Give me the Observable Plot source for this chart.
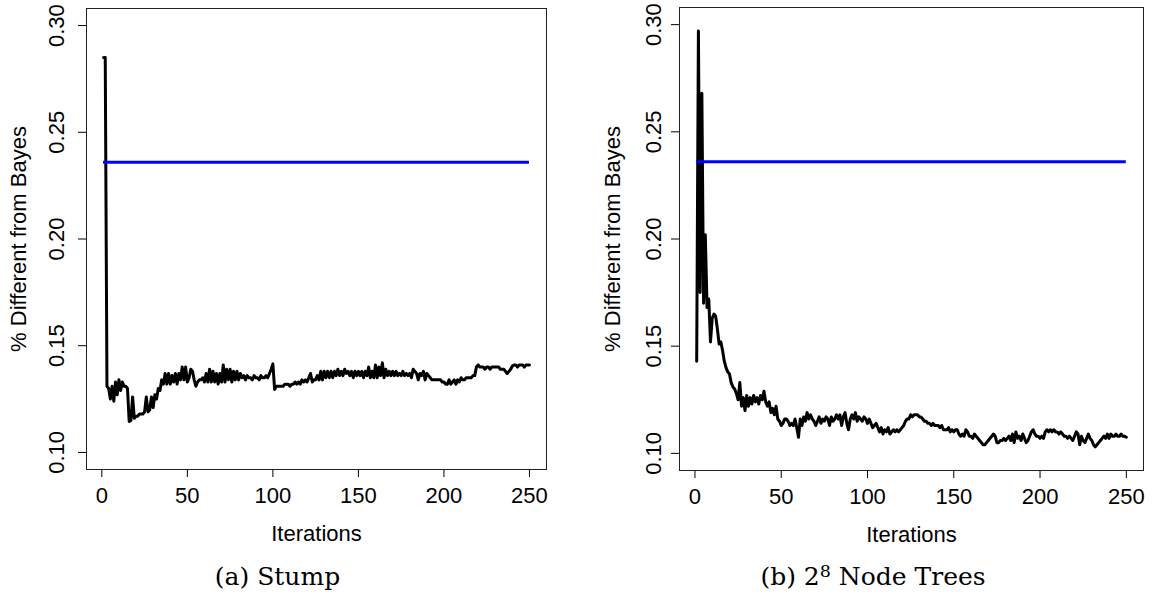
<!DOCTYPE html>
<html><head><meta charset="utf-8">
<script src="https://cdn.jsdelivr.net/npm/d3@7"></script>
<script src="https://cdn.jsdelivr.net/npm/@observablehq/plot@0.6"></script>
<style>
body{margin:0;background:#fff;}
#wrap{position:relative;width:1153px;height:596px;overflow:hidden;background:#fff;}
.panel{position:absolute;top:0;}
.cap{position:absolute;top:564px;font-family:"DejaVu Serif","Liberation Serif",serif;font-size:25px;line-height:1;text-align:center;white-space:nowrap;color:#000;}
.cap sup{font-size:0.7em;vertical-align:0;position:relative;top:-0.45em;}
</style></head>
<body><div id="wrap"></div>
<script>
const iterations = d3.range(1, 251);
const stumpError = [
0.285,0.285,0.131,0.130,0.125,0.131,0.124,0.133,0.127,0.134,
0.129,0.133,0.131,0.131,0.130,0.1145,0.115,0.126,0.116,0.117,
0.117,0.118,0.118,0.118,0.119,0.126,0.119,0.120,0.126,0.121,
0.127,0.125,0.130,0.129,0.134,0.132,0.137,0.132,0.137,0.132,
0.136,0.133,0.137,0.132,0.137,0.134,0.140,0.134,0.140,0.133,
0.135,0.139,0.138,0.134,0.131,0.133,0.134,0.134,0.135,0.133,
0.137,0.133,0.139,0.133,0.138,0.133,0.137,0.132,0.137,0.133,
0.141,0.133,0.139,0.134,0.139,0.133,0.138,0.134,0.138,0.134,
0.137,0.135,0.136,0.134,0.136,0.135,0.135,0.134,0.136,0.135,
0.135,0.134,0.136,0.135,0.135,0.136,0.135,0.137,0.139,0.1415,
0.1295,0.131,0.131,0.131,0.131,0.131,0.132,0.132,0.132,0.131,
0.132,0.132,0.133,0.132,0.133,0.132,0.134,0.133,0.134,0.133,
0.135,0.137,0.133,0.134,0.134,0.136,0.134,0.138,0.134,0.138,
0.135,0.138,0.135,0.138,0.135,0.138,0.136,0.139,0.136,0.138,
0.136,0.139,0.137,0.138,0.136,0.138,0.135,0.138,0.136,0.138,
0.136,0.138,0.135,0.138,0.136,0.140,0.135,0.138,0.135,0.141,
0.135,0.140,0.136,0.142,0.135,0.139,0.136,0.138,0.136,0.138,
0.136,0.138,0.136,0.137,0.136,0.138,0.136,0.137,0.136,0.137,
0.135,0.139,0.138,0.137,0.134,0.137,0.136,0.138,0.134,0.137,
0.136,0.135,0.134,0.134,0.134,0.134,0.134,0.134,0.133,0.133,
0.132,0.132,0.134,0.132,0.133,0.134,0.132,0.134,0.133,0.135,
0.134,0.134,0.135,0.135,0.135,0.135,0.136,0.136,0.140,0.141,
0.140,0.140,0.140,0.139,0.140,0.140,0.139,0.140,0.140,0.140,
0.140,0.140,0.139,0.139,0.139,0.138,0.137,0.138,0.139,0.1405,
0.141,0.141,0.140,0.141,0.141,0.141,0.140,0.141,0.141,0.141
];
const nodeTreeError = [
0.143,0.297,0.175,0.268,0.170,0.202,0.168,0.172,0.152,0.163,
0.165,0.164,0.158,0.151,0.152,0.148,0.143,0.140,0.138,0.137,
0.133,0.131,0.130,0.128,0.125,0.133,0.122,0.126,0.120,0.127,
0.122,0.126,0.123,0.127,0.124,0.126,0.123,0.127,0.125,0.129,
0.124,0.122,0.124,0.119,0.121,0.118,0.122,0.116,0.115,0.113,
0.114,0.116,0.116,0.115,0.113,0.114,0.113,0.116,0.112,0.1075,
0.116,0.113,0.117,0.115,0.119,0.116,0.118,0.116,0.115,0.113,
0.115,0.117,0.114,0.116,0.115,0.117,0.116,0.113,0.117,0.115,
0.116,0.118,0.116,0.118,0.113,0.117,0.119,0.114,0.111,0.116,
0.118,0.116,0.119,0.115,0.117,0.116,0.115,0.117,0.116,0.114,
0.116,0.114,0.112,0.113,0.114,0.112,0.110,0.112,0.109,0.111,
0.110,0.112,0.109,0.110,0.111,0.110,0.111,0.110,0.111,0.112,
0.113,0.115,0.116,0.116,0.118,0.117,0.118,0.118,0.118,0.117,
0.117,0.116,0.115,0.115,0.114,0.114,0.113,0.114,0.113,0.113,
0.113,0.112,0.113,0.111,0.111,0.111,0.112,0.110,0.111,0.110,
0.111,0.111,0.109,0.108,0.109,0.108,0.111,0.110,0.108,0.108,
0.107,0.109,0.108,0.107,0.106,0.105,0.104,0.104,0.105,0.106,
0.107,0.108,0.109,0.108,0.105,0.105,0.106,0.106,0.107,0.106,
0.107,0.108,0.106,0.109,0.105,0.110,0.107,0.108,0.106,0.109,
0.107,0.105,0.106,0.108,0.110,0.111,0.109,0.108,0.108,0.107,
0.108,0.107,0.110,0.111,0.110,0.111,0.110,0.111,0.110,0.110,
0.109,0.110,0.109,0.108,0.108,0.107,0.108,0.107,0.106,0.108,
0.110,0.109,0.104,0.108,0.106,0.105,0.107,0.109,0.107,0.106,
0.104,0.103,0.104,0.105,0.106,0.107,0.108,0.107,0.109,0.107,
0.109,0.108,0.108,0.109,0.108,0.108,0.109,0.108,0.108,0.1075
];
const bayesError = 0.236;
const xTicks = [0, 50, 100, 150, 200, 250];
const yTicks = [0.10, 0.15, 0.20, 0.25, 0.30];
const yLabel = "% Different from Bayes";
const xLabel = "Iterations";
const captions = ["(a) Stump", "(b) 2<sup>8</sup> Node Trees"];

const FONT = "'Liberation Sans', Arial, Helvetica, sans-serif";

function panel(values, o) {
  const data = iterations.map((it, i) => ({iter: it, err: values[i]}));
  const first = iterations[0], last = iterations[iterations.length - 1];
  return Plot.plot({
    width: o.width, height: 550,
    marginLeft: o.ml, marginRight: o.mr, marginTop: o.mt, marginBottom: 550 - o.bottom,
    x: {domain: [-8.96, 259.96]},
    y: {domain: [0.092, 0.308]},
    style: {fontFamily: FONT, fontSize: "22px", background: "white", color: "black"},
    marks: [
      Plot.axisX({ticks: xTicks, tickSize: 8, tickPadding: 10, fontSize: 22,
        label: xLabel, labelAnchor: "center", labelOffset: 71, labelArrow: "none"}),
      Plot.axisY({ticks: yTicks, tickFormat: d3.format(".2f"), tickSize: 8, tickRotate: -90,
        tickPadding: o.yPad, fontSize: 22,
        label: yLabel, labelAnchor: "center", labelOffset: o.yLabOff, labelArrow: "none"}),
      Plot.line(data, {x: "iter", y: "err", stroke: "black", strokeWidth: 3,
        strokeLinejoin: "round", strokeLinecap: "round"}),
      Plot.ruleY([bayesError], {x1: first, x2: last, stroke: "#0000ff", strokeWidth: 3}),
      Plot.frame({stroke: "#222", strokeWidth: 1})
    ]
  });
}

const wrap = document.getElementById("wrap");
const left = panel(stumpError, {width: 576, ml: 86, mr: 30, mt: 8, bottom: 469, yPad: 15, yLabOff: 76});
left.classList.add("panel"); left.style.left = "0px";
const right = panel(nodeTreeError, {width: 577, ml: 103, mr: 10, mt: 7, bottom: 470, yPad: 11, yLabOff: 75});
right.classList.add("panel"); right.style.left = "576px";
wrap.appendChild(left); wrap.appendChild(right);

const capPos = [[0, 555], [593, 560]];
captions.forEach((c, i) => {
  const d = document.createElement("div");
  d.className = "cap";
  d.style.left = capPos[i][0] + "px";
  d.style.width = capPos[i][1] + "px";
  d.innerHTML = c;
  wrap.appendChild(d);
});
</script>
</body></html>
